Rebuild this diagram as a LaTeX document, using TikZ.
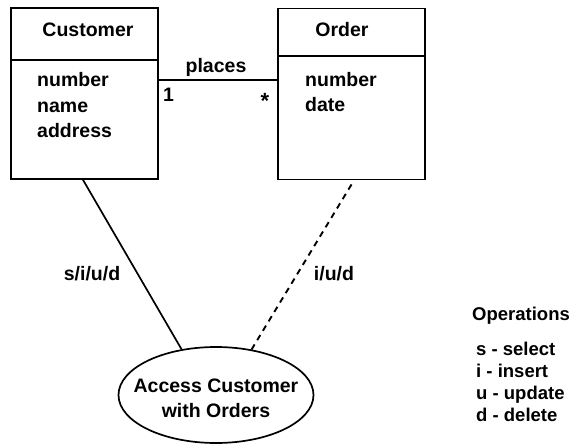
\documentclass[tikz,border=0pt]{standalone}
\usepackage{fontspec}
\setmainfont{Liberation Sans}
\usetikzlibrary{shapes.geometric}
\tikzset{
  box/.style={draw, line width=1.9pt, inner sep=0pt, outer sep=0pt},
  lbl/.style={font=\fontsize{19.5}{23}\selectfont\bfseries, inner sep=0pt},
  legendtext/.style={lbl, font=\fontsize{18.5}{22}\selectfont\bfseries, anchor=base west},
  link/.style={line width=1.7pt},
  dashlink/.style={line width=1.9pt, dash pattern=on 6pt off 5pt},
}
\begin{document}
\begin{tikzpicture}[x=1pt,y=-1pt]
\useasboundingbox (0,0) rectangle (576,444);

% class boxes
\node[box, minimum width=147pt, minimum height=171pt] (cust) at (84.5,93.5) {};
\node[box, minimum width=147pt, minimum height=171pt] (order) at (351.5,94) {};
\draw[line width=1.9pt] (cust.west |- 0,60) -- (cust.east |- 0,60);
\draw[line width=1.9pt] (order.west |- 0,56) -- (order.east |- 0,56);

% class names and attributes
\node[lbl, anchor=base] (custname) at (88,37) {Customer};
\node[lbl, anchor=base west] (cnum) at (37,87) {number};
\node[lbl, anchor=base west] (cname) at (37,112) {name};
\node[lbl, anchor=base west] (caddr) at (37,137) {address};

\node[lbl, anchor=base] (ordername) at (342,37) {Order};
\node[lbl, anchor=base west] (onum) at (305,86) {number};
\node[lbl, anchor=base west] (odate) at (305,111) {date};

% association
\coordinate (assocA) at (cust.east |- 0,80);
\coordinate (assocB) at (order.west |- 0,80);
\draw[link] (assocA) -- (assocB);
\node[lbl, anchor=base] (places) at (216,73) {places};
\node[lbl, anchor=base west] (multA) at (163,102) {1};
\node[lbl, anchor=base, font=\fontsize{22}{24}\selectfont\bfseries] (multB) at (265,108) {*};

% use case
\node[draw, ellipse, line width=1.7pt, minimum width=195pt, minimum height=96pt, inner sep=0pt] (uc) at (216,395) {};
\node[lbl, anchor=base] (uc1) at (216,392) {Access Customer};
\node[lbl, anchor=base] (uc2) at (216,417) {with Orders};

\draw[link] ([xshift=-2pt]cust.south) -- (uc.127);
\draw[dashlink] ([yshift=-5pt]order.south) -- (uc.52);
\node[lbl] (opsA) at (92,274) {s/i/u/d};
\node[lbl] (opsB) at (334,274) {i/u/d};

% legend
\node[legendtext] (legend) at (472,320) {Operations};
\node[legendtext] (ls) at (476,355) {s - select};
\node[legendtext] (li) at (476,377) {i - insert};
\node[legendtext] (lu) at (476,399) {u - update};
\node[legendtext] (ld) at (476,421) {d - delete};
\end{tikzpicture}
\end{document}
